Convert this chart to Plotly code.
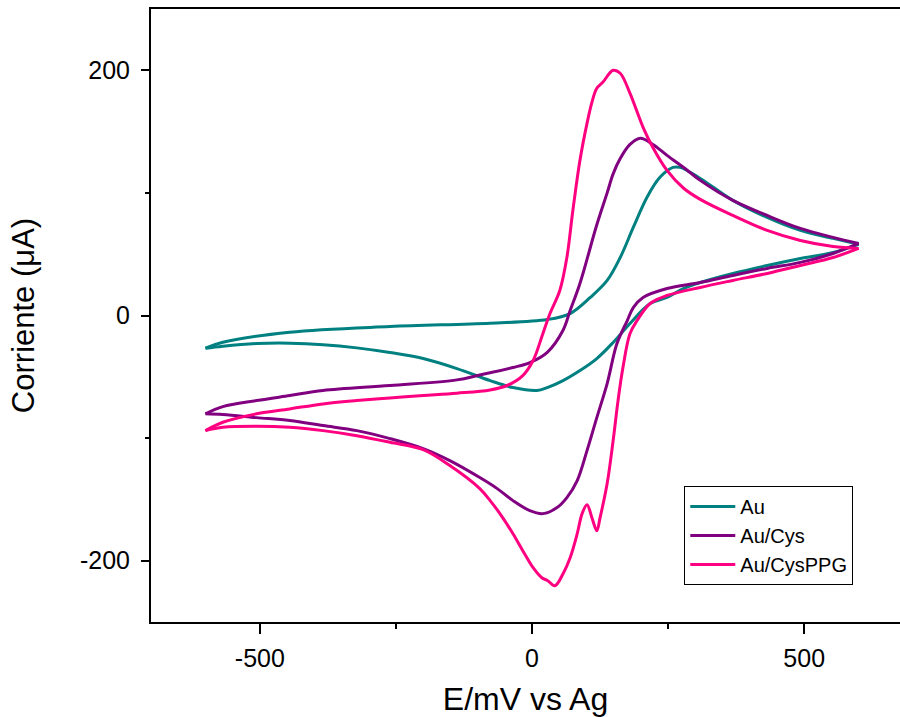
import plotly.graph_objects as go

# ---------------- data (E in mV, I in µA) ----------------
au_fwd_E = [-600, -568, -445, -261, -77, 28, 70, 107, 138, 162, 186, 211, 235, 259, 272,
            309, 369, 432, 493, 553, 600]
au_fwd_I = [-26.7, -21.8, -13.6, -9.0, -6.3, -3.3, 1.6, 14.7, 28.6, 47.3, 71.8, 96.3, 112.7, 120.8, 120.8,
            111.8, 93.9, 80.0, 69.4, 62.9, 58.0]
au_rev_E = [600, 553, 493, 432, 369, 309, 278, 248, 217, 180, 149, 119, 88, 57, 28, 9, -35, -77,
            -138, -200, -261, -322, -384, -445, -506, -568, -600]
au_rev_I = [58.0, 51.4, 46.5, 40.8, 34.3, 26.9, 22.0, 14.7, 9.8, -6.5, -22.0, -35.1, -44.9, -53.1, -58.8, -61.2, -58.8, -53.1,
            -43.3, -35.1, -30.2, -26.4, -23.8, -22.6, -22.9, -25.0, -26.7]

cys_fwd_E = [-600, -568, -506, -445, -384, -261, -138, -96, -35, -4, 28, 57, 70, 88, 119, 138, 149, 162, 180,
             199, 222, 248, 285, 309, 369, 432, 493, 553, 600]
cys_fwd_I = [-80.2, -74.3, -69.4, -65.3, -61.2, -57.1, -52.5, -48.5, -42.4, -38.4, -30.0, -12.0, 4.0, 26.1, 74.0, 100.0, 115.5, 128.0, 139.5,
             144.5, 139.5, 130.6, 118.5, 110.2, 93.9, 81.6, 71.0, 63.7, 58.8]
cys_rev_E = [600, 553, 493, 432, 369, 309, 248, 204, 186, 175, 156, 138, 119, 101, 83, 64, 46, 20, -4, -35, -64,
             -96, -151, -200, -261, -322, -384, -445, -506, -568, -600]
cys_rev_I = [58.8, 50.6, 43.3, 38.4, 32.7, 26.9, 22.0, 14.7, 6.5, -4.1, -22.9, -55.5, -83.3, -110.2, -134.7, -148.6, -156.7, -161.6, -159.2, -151.0, -141.2,
             -132.2, -118.4, -108.6, -100.4, -93.9, -89.8, -85.7, -83.3, -80.8, -80.2]

ppg_fwd_E = [-600, -568, -506, -445, -384, -322, -261, -200, -138, -77, -46, -17, 2, 20, 33, 51, 64, 75, 88, 101, 110,
             119, 130, 149, 162, 180, 204, 222, 248, 278, 309, 369, 432, 493, 553, 600]
ppg_fwd_I = [-93.9, -87.1, -80.2, -76.2, -72.1, -69.4, -67.2, -65.3, -63.4, -60.7, -57.1, -49.0, -36.7, -14.7, 1.6, 20.4, 47.3, 85.7, 126.5, 156.7, 173.9,
             185.3, 190.2, 200.0, 197.6, 181.2, 153.5, 137.1, 118.4, 104.0, 94.7, 81.6, 69.4, 61.2, 56.3, 54.7]
ppg_rev_E = [600, 553, 493, 432, 369, 309, 248, 217, 193, 180, 167, 158, 149, 138, 125, 119, 110, 101, 92, 83, 70, 57,
             42, 29, 18, 2, -17, -35, -59, -77, -96, -151, -200, -261, -322, -384, -445, -506, -568, -600]
ppg_rev_I = [54.7, 47.3, 40.8, 34.3, 28.6, 22.9, 16.3, 9.8, -4.1, -14.7, -42.4, -69.4, -102.0, -137.1, -164.9, -175.5, -164.9, -154.3, -161.6, -178.0, -197.6, -210.6,
             -220.4, -216.3, -213.9, -205.7, -191.8, -178.0, -161.6, -151.0, -141.2, -122.4, -109.4, -103.4, -98.0, -93.9, -91.2, -90.4, -91.2, -93.9]

series = [
    ("Au", "#008080", au_fwd_E, au_fwd_I, au_rev_E, au_rev_I),
    ("Au/Cys", "#800080", cys_fwd_E, cys_fwd_I, cys_rev_E, cys_rev_I),
    ("Au/CysPPG", "#FF0080", ppg_fwd_E, ppg_fwd_I, ppg_rev_E, ppg_rev_I),
]

x_ticks = [-500, 0, 500]
y_ticks = [-200, 0, 200]

FONT = "Liberation Sans, Arial, sans-serif"

fig = go.Figure()
for name, color, fE, fI, rE, rI in series:
    fig.add_trace(go.Scatter(x=fE, y=fI, mode="lines", name=name, legendgroup=name,
                             line=dict(color=color, width=3, shape="spline", smoothing=1.0)))
    fig.add_trace(go.Scatter(x=rE, y=rI, mode="lines", name=name, legendgroup=name, showlegend=False,
                             line=dict(color=color, width=3, shape="spline", smoothing=1.0)))

fig.update_layout(
    width=900, height=717,
    margin=dict(l=151, r=0, t=9, b=95),
    plot_bgcolor="white", paper_bgcolor="white",
    font=dict(family=FONT, color="black"),
    showlegend=True,
    legend=dict(x=0.712, y=0.2219, xanchor="left", yanchor="top",
                bordercolor="black", borderwidth=1, bgcolor="white",
                font=dict(size=20, family=FONT), tracegroupgap=0, itemwidth=45),
)
fig.update_xaxes(
    range=[-700, 676], tickvals=x_ticks, ticktext=[str(v) for v in x_ticks],
    showgrid=False, zeroline=False, showline=True, linecolor="black", linewidth=2,
    mirror=True, ticks="outside", ticklen=10, tickwidth=2, tickcolor="black",
    tickfont=dict(size=25, family=FONT), ticklabelstandoff=3,
    minor=dict(tickvals=[-250, 250], ticks="outside", ticklen=5, tickwidth=2, tickcolor="black"),
    title=dict(text="E/mV vs Ag", font=dict(size=32, family=FONT), standoff=18),
)
fig.update_yaxes(
    range=[-250, 250], tickvals=y_ticks, ticktext=[str(v) for v in y_ticks],
    showgrid=False, zeroline=False, showline=True, linecolor="black", linewidth=2,
    mirror=False, ticks="outside", ticklen=8, tickwidth=2, tickcolor="black",
    tickfont=dict(size=25, family=FONT), ticklabelstandoff=6,
    minor=dict(tickvals=[-100, 100], ticks="outside", ticklen=4, tickwidth=2, tickcolor="black"),
    title=dict(text="Corriente (μA)", font=dict(size=31, family=FONT), standoff=36),
)

fig.write_html("out.html", config={"displayModeBar": False},
               post_script="document.body.style.margin='0px';")
